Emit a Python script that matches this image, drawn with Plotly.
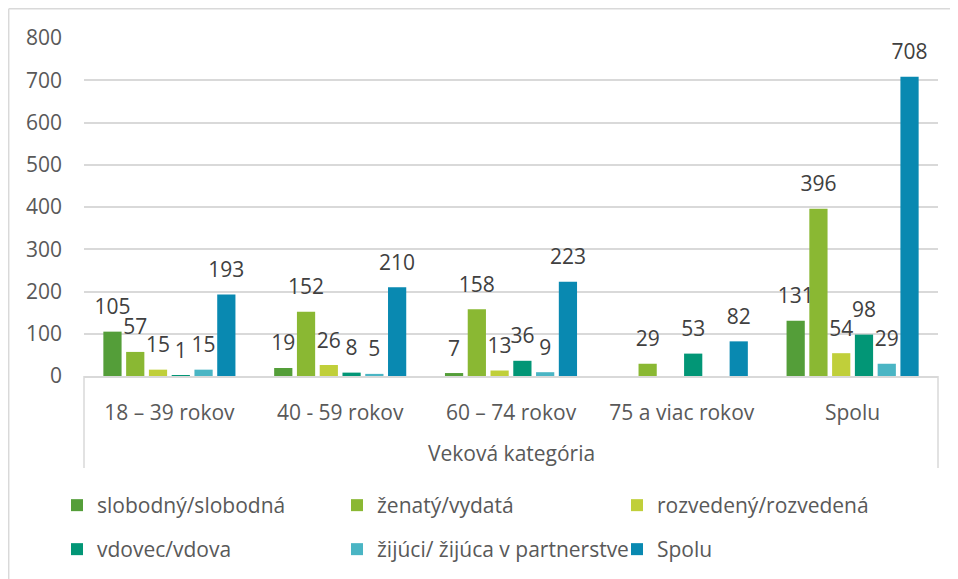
import plotly.graph_objects as go

categories = ["18 – 39 rokov", "40 - 59 rokov", "60 – 74 rokov", "75 a viac rokov", "Spolu"]
series_names = ["slobodný/slobodná", "ženatý/vydatá", "rozvedený/rozvedená",
                "vdovec/vdova", "žijúci/ žijúca v partnerstve", "Spolu"]
slobodny = [105, 19, 7, None, 131]
zenaty = [57, 152, 158, 29, 396]
rozvedeny = [15, 26, 13, None, 54]
vdovec = [1, 8, 36, 53, 98]
zijuci = [15, 5, 9, None, 29]
spolu = [193, 210, 223, 82, 708]
colors = ["#549E39", "#8AB833", "#C0CF3A", "#029676", "#4AB5C4", "#0989B1"]
y_ticks = [0, 100, 200, 300, 400, 500, 600, 700, 800]
axis_title = "Veková kategória"

# page has an 8px body margin: work in screen pixels, convert to figure pixels
OFF = 8
W, H = 958 - OFF, 579 - OFF
L, R, T, B = 84 - OFF, 938 - OFF, 38 - OFF, 376 - OFF
FONT = "Open Sans"
TXT = "#595959"
FS = 21


def xp(px):
    return (px - OFF - L) / (R - L)


def yp(py):
    return (B - (py - OFF)) / (B - T)


fig = go.Figure()
all_vals = [slobodny, zenaty, rozvedeny, vdovec, zijuci, spolu]
for i, (name, vals, col) in enumerate(zip(series_names, all_vals, colors)):
    fig.add_trace(go.Bar(
        x=categories, y=vals, name=name,
        marker=dict(color=col, line=dict(width=0)),
        legend="legend" if i < 3 else "legend2",
        hoverinfo="x+y+name",
    ))
# data labels, grouped like the bars
for i, (name, vals) in enumerate(zip(series_names, all_vals)):
    fig.add_trace(go.Scatter(
        x=categories, y=vals, name=name, mode="markers+text",
        marker=dict(size=18, opacity=0, color="white"),
        text=[("" if v is None else str(v)) for v in vals],
        textposition="top center", cliponaxis=False,
        textfont=dict(family=FONT, size=FS, color="#404040"),
        showlegend=False, hoverinfo="skip",
    ))

line_col = "#D9D9D9"
shapes = [
    # category box
    dict(type="line", xref="paper", yref="paper", x0=0, x1=0, y0=0, y1=yp(468),
         line=dict(color=line_col, width=1.5)),
    dict(type="line", xref="paper", yref="paper", x0=1, x1=1, y0=0, y1=yp(468),
         line=dict(color=line_col, width=1.5)),
    # outer chart border
    dict(type="line", xref="paper", yref="paper", x0=xp(8.7), x1=xp(8.7), y0=yp(8.7), y1=yp(600),
         line=dict(color=line_col, width=1.5)),
    dict(type="line", xref="paper", yref="paper", x0=xp(8.7), x1=xp(980), y0=yp(8.7), y1=yp(8.7),
         line=dict(color=line_col, width=1.5)),
]

legend_common = dict(
    orientation="h", xanchor="left", yanchor="top",
    entrywidth=235, entrywidthmode="pixels",
    font=dict(family=FONT, size=FS, color=TXT),
    bgcolor="rgba(0,0,0,0)", borderwidth=0, itemclick=False, itemdoubleclick=False,
    traceorder="normal", xref="container", yref="container",
)

fig.update_layout(
    width=W, height=H,
    margin=dict(l=L, r=W - R, t=T, b=H - B, pad=0),
    paper_bgcolor="white", plot_bgcolor="white",
    font=dict(family=FONT, size=FS, color=TXT),
    barmode="group", bargap=0.2, bargroupgap=0.2,
    scattermode="group", scattergap=0.2,
    showlegend=True,
    legend=dict(x=(57 - OFF) / W, y=1 - (485 - OFF) / H, **legend_common),
    legend2=dict(x=(57 - OFF) / W, y=1 - (529 - OFF) / H, **legend_common),
    xaxis=dict(
        type="category", showline=True, linecolor=line_col, linewidth=1.5,
        ticks="", showgrid=False, ticklabelstandoff=17,
        tickfont=dict(family=FONT, size=FS, color=TXT), fixedrange=True,
    ),
    yaxis=dict(
        range=[0, 800], tickvals=y_ticks, showgrid=True, gridcolor=line_col, gridwidth=1.5,
        zeroline=False, showline=False, ticks="", ticklabelstandoff=21,
        tickfont=dict(family=FONT, size=FS, color=TXT), fixedrange=True,
    ),
    shapes=shapes,
    annotations=[dict(text=axis_title, xref="paper", yref="paper", x=0.5, y=yp(453),
                      showarrow=False, xanchor="center", yanchor="middle",
                      font=dict(family=FONT, size=FS, color=TXT))],
)

fig.write_html("out.html")
